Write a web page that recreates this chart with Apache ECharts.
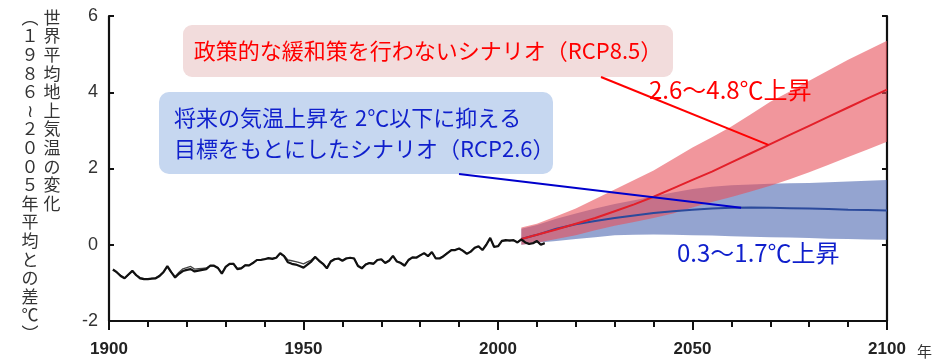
<!DOCTYPE html>
<html>
<head>
<meta charset="utf-8">
<script src="https://cdn.jsdelivr.net/npm/echarts@6/dist/echarts.min.js"></script>
<style>
  html, body { margin: 0; padding: 0; background: #fff; }
  #chart { width: 935px; height: 363px; }
</style>
</head>
<body>
<div id="chart"></div>
<script>
// Observed global mean surface temperature anomaly (°C vs 1986–2005), 1901–2012
const histStartYear = 1901;
const histMain = [
  -0.65, -0.72, -0.82, -0.88, -0.78, -0.68, -0.80, -0.88, -0.90, -0.90,
  -0.89, -0.88, -0.82, -0.72, -0.56, -0.72, -0.86, -0.76, -0.69, -0.66,
  -0.64, -0.70, -0.68, -0.66, -0.64, -0.55, -0.55, -0.61, -0.76, -0.58,
  -0.50, -0.50, -0.64, -0.62, -0.54, -0.54, -0.48, -0.40, -0.40, -0.38,
  -0.35, -0.37, -0.34, -0.22, -0.30, -0.46, -0.50, -0.52, -0.56, -0.60,
  -0.52, -0.44, -0.32, -0.42, -0.50, -0.62, -0.44, -0.38, -0.36, -0.42,
  -0.36, -0.34, -0.36, -0.56, -0.62, -0.52, -0.48, -0.50, -0.40, -0.38,
  -0.48, -0.42, -0.29, -0.44, -0.48, -0.55, -0.40, -0.33, -0.34, -0.28,
  -0.22, -0.30, -0.19, -0.36, -0.36, -0.30, -0.22, -0.14, -0.14, -0.10,
  -0.16, -0.24, -0.18, -0.08, -0.04, -0.14, 0.00, 0.18, -0.06, -0.04,
  0.10, 0.12, 0.11, 0.12, 0.06, 0.14, 0.06, 0.02, 0.04, 0.10,
  0.00, 0.04
];
// Second observational dataset (thin line)
const histAlt = [
  -0.66, -0.73, -0.80, -0.87, -0.79, -0.70, -0.79, -0.86, -0.89, -0.91,
  -0.88, -0.87, -0.80, -0.71, -0.58, -0.73, -0.83, -0.72, -0.63, -0.60,
  -0.57, -0.64, -0.63, -0.62, -0.61, -0.55, -0.56, -0.60, -0.74, -0.57,
  -0.51, -0.49, -0.62, -0.61, -0.53, -0.55, -0.47, -0.41, -0.39, -0.37,
  -0.36, -0.36, -0.33, -0.24, -0.29, -0.40, -0.42, -0.44, -0.47, -0.50,
  -0.45, -0.40, -0.31, -0.41, -0.49, -0.60, -0.43, -0.37, -0.37, -0.41,
  -0.35, -0.35, -0.35, -0.54, -0.60, -0.51, -0.47, -0.49, -0.39, -0.39,
  -0.47, -0.41, -0.30, -0.43, -0.47, -0.53, -0.39, -0.34, -0.33, -0.27,
  -0.23, -0.29, -0.20, -0.35, -0.35, -0.29, -0.21, -0.15, -0.13, -0.11,
  -0.15, -0.23, -0.17, -0.09, -0.05, -0.13, 0.01, 0.16, -0.05, -0.03,
  0.09, 0.11, 0.12, 0.11, 0.07, 0.13, 0.07, 0.03, 0.05, 0.09,
  0.01, 0.05
];

// Multi-model projections, 2006–2100
const projYears = [2006, 2010, 2015, 2020, 2025, 2030, 2035, 2040, 2045, 2050,
                   2055, 2060, 2065, 2070, 2075, 2080, 2085, 2090, 2095, 2100];
const rcp85Mean = [0.15, 0.26, 0.40, 0.55, 0.70, 0.88, 1.06, 1.26, 1.48, 1.70,
                   1.92, 2.16, 2.40, 2.64, 2.88, 3.12, 3.36, 3.60, 3.84, 4.07];
const rcp85High = [0.45, 0.55, 0.75, 0.95, 1.20, 1.45, 1.70, 1.95, 2.25, 2.55,
                   2.82, 3.10, 3.42, 3.75, 4.02, 4.30, 4.58, 4.85, 5.10, 5.35];
const rcp85Low  = [0.00, 0.05, 0.15, 0.25, 0.38, 0.50, 0.60, 0.70, 0.82, 0.98,
                   1.12, 1.25, 1.40, 1.55, 1.72, 1.90, 2.10, 2.30, 2.50, 2.70];
const rcp26Mean = [0.15, 0.26, 0.42, 0.54, 0.62, 0.70, 0.77, 0.83, 0.88, 0.92,
                   0.95, 0.97, 0.98, 0.97, 0.96, 0.95, 0.94, 0.92, 0.91, 0.90];
const rcp26High = [0.42, 0.52, 0.68, 0.82, 0.95, 1.07, 1.17, 1.27, 1.37, 1.46,
                   1.52, 1.56, 1.58, 1.60, 1.61, 1.62, 1.64, 1.66, 1.68, 1.70];
const rcp26Low  = [0.00, 0.05, 0.10, 0.15, 0.20, 0.25, 0.26, 0.27, 0.26, 0.25,
                   0.24, 0.22, 0.21, 0.20, 0.19, 0.18, 0.16, 0.15, 0.14, 0.13];

// Axis ticks
const xTicks = [1900, 1950, 2000, 2050, 2100];
const yTicks = [-2, 0, 2, 4, 6];

// Texts
const yTitleMain = '世界平均地上気温の変化';
const yTitleSub = '︵１９８６≀２００５年平均との差℃︶';
const xUnit = '年';
const rcp85Note = '政策的な緩和策を行わないシナリオ（RCP8.5）';
const rcp26Note = ['将来の気温上昇を 2℃以下に抑える', '目標をもとにしたシナリオ（RCP2.6）'];
const rcp85Range = '2.6～4.8℃上昇';
const rcp26Range = '0.3～1.7℃上昇';
// Points on the projection lines that the callouts point at
const rcp85Anchor = [2069.5, 2.62];
const rcp26Anchor = [2062.5, 0.97];

const JP = '"Noto Sans CJK JP", "Noto Sans", sans-serif';

const histData = arr => arr.map((v, i) => [histStartYear + i, v]);
const projData = arr => arr.map((v, i) => [projYears[i], v]);

function band(name, low, high, color, z) {
  const data = projYears.map((y, i) => [y, low[i], high[i]]);
  return {
    type: 'custom', name, data, z, silent: true, clip: true,
    encode: { x: 0, y: [1, 2] },
    renderItem(params, api) {
      if (params.dataIndex !== 0) return null;
      const top = data.map(d => api.coord([d[0], d[2]]));
      const bottom = data.map(d => api.coord([d[0], d[1]])).reverse();
      return { type: 'polygon', shape: { points: top.concat(bottom) }, style: { fill: color } };
    }
  };
}

const chart = echarts.init(document.getElementById('chart'), null, { renderer: 'canvas' });

const axisBlack = { show: true, onZero: false, lineStyle: { color: '#111', width: 2.2 } };

chart.setOption({
  animation: false,
  grid: { left: 109, right: 48, top: 16, bottom: 42 },
  xAxis: {
    type: 'value', min: xTicks[0], max: xTicks[xTicks.length - 1], interval: 50,
    axisLine: axisBlack,
    axisTick: { show: true, inside: false, length: 9, lineStyle: { color: '#111', width: 2 } },
    minorTick: { show: true, splitNumber: 5, length: 6, lineStyle: { color: '#111', width: 2 } },
    splitLine: { show: false },
    axisLabel: {
      margin: 20, color: '#222', fontSize: 17, fontWeight: 'bold',
      fontFamily: '"Liberation Sans", Arial, sans-serif',
      formatter: v => xTicks.includes(v) ? String(v) : ''
    }
  },
  yAxis: [{
    type: 'value', min: yTicks[0], max: yTicks[yTicks.length - 1], interval: 2,
    axisLine: axisBlack,
    axisTick: { show: true, inside: true, length: 5, lineStyle: { color: '#111', width: 2 } },
    splitLine: { show: false },
    axisLabel: {
      margin: 11, color: '#333', fontSize: 18,
      fontFamily: '"Liberation Sans", Arial, sans-serif',
      formatter: v => yTicks.includes(v) ? String(v) : ''
    }
  }, {
    type: 'value', position: 'right', min: yTicks[0], max: yTicks[yTicks.length - 1], interval: 2,
    axisLine: axisBlack,
    axisTick: { show: true, inside: true, length: 5, lineStyle: { color: '#111', width: 2 } },
    splitLine: { show: false },
    axisLabel: { show: false }
  }],
  series: [
    band('RCP2.6 range', rcp26Low, rcp26High, 'rgba(60,90,170,0.55)', 1),
    band('RCP8.5 range', rcp85Low, rcp85High, 'rgba(232,80,90,0.6)', 2),
    {
      type: 'line', name: 'RCP2.6', data: projData(rcp26Mean), showSymbol: false, z: 3,
      lineStyle: { color: '#2b4a9c', width: 2 }
    },
    {
      type: 'line', name: 'RCP8.5', data: projData(rcp85Mean), showSymbol: false, z: 4,
      lineStyle: { color: '#e3202a', width: 2 }
    },
    {
      type: 'line', name: 'observed B', data: histData(histAlt), showSymbol: false, z: 5,
      lineStyle: { color: '#444', width: 1.3 }
    },
    {
      type: 'line', name: 'observed A', data: histData(histMain), showSymbol: false, z: 6,
      lineStyle: { color: '#111', width: 2.2 }
    }
  ]
});

const p85 = chart.convertToPixel({ gridIndex: 0 }, rcp85Anchor);
const p26 = chart.convertToPixel({ gridIndex: 0 }, rcp26Anchor);

chart.setOption({
  graphic: [
    // vertical y-axis title (two columns)
    { type: 'text', x: 52, y: 8, style: {
        text: yTitleMain.split('').join('\n'), font: '17px ' + JP, lineHeight: 18.6,
        fill: '#333', align: 'center', verticalAlign: 'top' } },
    { type: 'text', x: 30, y: 8, style: {
        text: yTitleSub.split('').join('\n'), font: '17px ' + JP, lineHeight: 18.6,
        fill: '#333', align: 'center', verticalAlign: 'top' } },
    // x unit
    { type: 'text', x: 917, y: 344, style: { text: xUnit, font: '15px ' + JP, fill: '#333' } },
    // RCP8.5 note box
    { type: 'rect', shape: { x: 183, y: 25, width: 490, height: 52, r: 9 },
      style: { fill: '#f2dcdc' }, z: 10 },
    { type: 'text', x: 428, y: 51, z: 11, style: {
        text: rcp85Note, font: '22px ' + JP, fill: '#ff0000', align: 'center', verticalAlign: 'middle' } },
    // RCP2.6 note box
    { type: 'rect', shape: { x: 159, y: 92, width: 394, height: 82, r: 10 },
      style: { fill: '#c6d7f0' }, z: 10 },
    { type: 'text', x: 174, y: 118, z: 11, style: {
        text: rcp26Note[0], font: '22px ' + JP, fill: '#0f1fcc', verticalAlign: 'middle' } },
    { type: 'text', x: 174, y: 149, z: 11, style: {
        text: rcp26Note[1], font: '22px ' + JP, fill: '#0f1fcc', verticalAlign: 'middle' } },
    // callout lines
    { type: 'line', z: 12, shape: { x1: 601, y1: 77, x2: p85[0], y2: p85[1] },
      style: { stroke: '#ff0000', lineWidth: 2 } },
    { type: 'line', z: 12, shape: { x1: 459, y1: 174, x2: p26[0], y2: p26[1] },
      style: { stroke: '#0000cc', lineWidth: 2 } },
    // range labels
    { type: 'text', x: 649, y: 90, z: 12, style: {
        text: rcp85Range, font: '24px ' + JP, fill: '#ff0000', verticalAlign: 'middle' } },
    { type: 'text', x: 677, y: 253, z: 12, style: {
        text: rcp26Range, font: '24px ' + JP, fill: '#0f1fcc', verticalAlign: 'middle' } }
  ]
});
</script>
</body>
</html>
